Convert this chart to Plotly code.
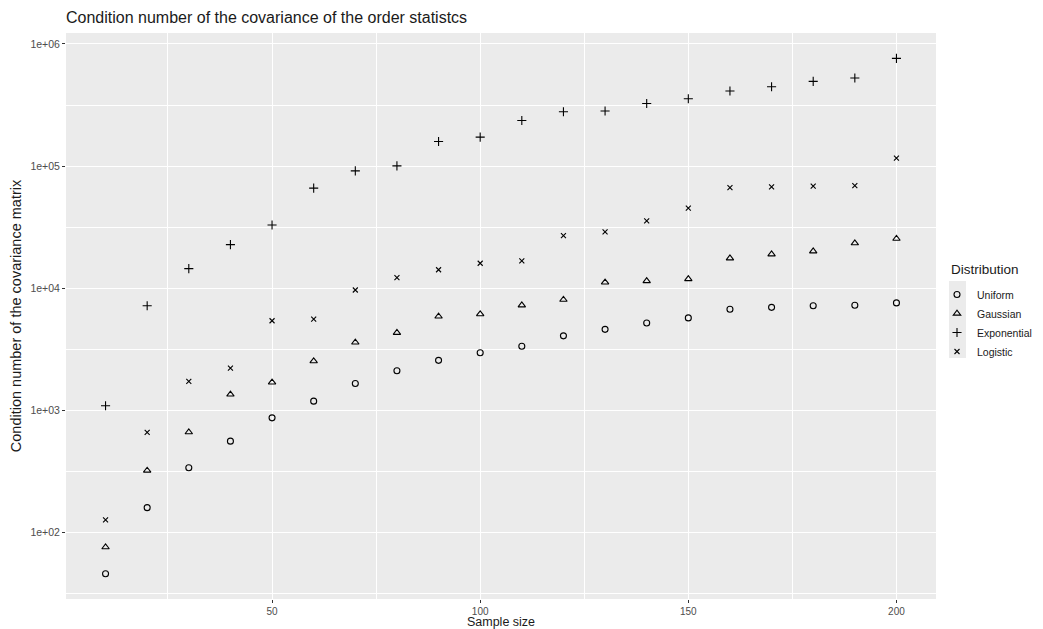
import plotly.graph_objects as go

sample_size = [10, 20, 30, 40, 50, 60, 70, 80, 90, 100,
               110, 120, 130, 140, 150, 160, 170, 180, 190, 200]
uniform = [46, 160, 339, 560, 869, 1191, 1663, 2113, 2570, 2965,
           3350, 4080, 4610, 5200, 5720, 6730, 6980, 7190, 7260, 7590]
gaussian = [76, 322, 664, 1352, 1698, 2535, 3605, 4325, 5890, 6150,
            7260, 8070, 11190, 11470, 11910, 17620, 19000, 20100, 23400, 25500]
exponential = [1091, 7190, 14490, 22750, 33000, 66100, 91500, 100500, 159000, 172900,
               236500, 278700, 282600, 326000, 356000, 412000, 446700, 494000, 526000, 762000]
logistic = [127, 660, 1729, 2223, 5420, 5600, 9680, 12220, 14180, 16030,
            16740, 26990, 28900, 35650, 45300, 66800, 67600, 68500, 69300, 116400]

series_names = ["Uniform", "Gaussian", "Exponential", "Logistic"]
series_values = [uniform, gaussian, exponential, logistic]
symbols = ["circle-open", "triangle-up-open", "cross-thin-open", "x-thin-open"]
sizes = [6, 6.5, 6.5, 5]

y_tickvals = [1e2, 1e3, 1e4, 1e5, 1e6]
y_ticktext = ["1e+02", "1e+03", "1e+04", "1e+05", "1e+06"]
y_minor = [10 ** 1.5, 10 ** 2.5, 10 ** 3.5, 10 ** 4.5, 10 ** 5.5]
x_tickvals = [50, 100, 150, 200]
x_minor = [25, 75, 125, 175]

FONT = "Liberation Sans, Arial, sans-serif"
W, H = 1043, 629

fig = go.Figure()
for name, vals, sym, sz in zip(series_names, series_values, symbols, sizes):
    fig.add_trace(go.Scatter(
        x=sample_size, y=vals, mode="markers", name=name,
        marker=dict(symbol=sym, size=sz, color="black",
                    line=dict(width=1.1, color="black")),
    ))

# grey key backgrounds for the ggplot-like legend
fig.add_shape(type="rect", xref="paper", yref="paper",
              x0=(949 - 66) / 870, x1=(966 - 66) / 870,
              y0=(599 - 358) / 566, y1=(599 - 281) / 566,
              fillcolor="#EBEBEB", line=dict(width=0), layer="below")

fig.add_annotation(text="Distribution", xref="paper", yref="paper",
                   x=(949 - 66) / 870, xanchor="left",
                   y=(599 - 269) / 566, yanchor="middle",
                   showarrow=False, font=dict(size=13.5, color="#1A1A1A"))

fig.update_layout(
    width=W, height=H,
    margin=dict(l=66, r=107, t=33, b=30),
    paper_bgcolor="white", plot_bgcolor="#EBEBEB",
    font=dict(family=FONT, color="#1A1A1A"),
    title=dict(text="Condition number of the covariance of the order statistcs",
               xref="paper", x=0, xanchor="left",
               yref="container", y=1 - 17 / H, yanchor="middle",
               font=dict(size=16, color="#1A1A1A")),
    showlegend=True,
    legend=dict(
        xref="container", x=937 / W, xanchor="left",
        yref="container", y=1 - 280 / H, yanchor="top",
        font=dict(size=10.5, color="#1A1A1A"),
        bgcolor="rgba(0,0,0,0)", borderwidth=0,
        tracegroupgap=0,
    ),
    xaxis=dict(
        title=dict(text="Sample size", font=dict(size=12.5, color="#1A1A1A"), standoff=3),
        automargin=False,
        range=[0.5, 209.5], tickvals=x_tickvals,
        tickfont=dict(size=10, color="#4D4D4D"),
        ticks="outside", ticklen=2.5, tickcolor="#333333", tickwidth=1,
        showgrid=True, gridcolor="white", gridwidth=1.1,
        minor=dict(tickvals=x_minor, showgrid=True, gridcolor="white", gridwidth=0.5, ticks=""),
        zeroline=False, showline=False,
    ),
    yaxis=dict(
        title=dict(text="Condition number of the covariance matrix",
                   font=dict(size=14.5, color="#1A1A1A"), standoff=5),
        automargin=False,
        type="log", range=[1.456, 6.09],
        tickvals=y_tickvals, ticktext=y_ticktext,
        tickfont=dict(size=10.5, color="#4D4D4D"),
        ticks="outside", ticklen=3, tickcolor="#333333", tickwidth=1,
        showgrid=True, gridcolor="white", gridwidth=1.1,
        minor=dict(tickvals=y_minor, showgrid=True, gridcolor="white", gridwidth=0.5, ticks=""),
        zeroline=False, showline=False,
    ),
)

fig.write_html("out.html",
               config={"displayModeBar": False},
               post_script="document.body.style.margin='0';document.body.style.padding='0';")
